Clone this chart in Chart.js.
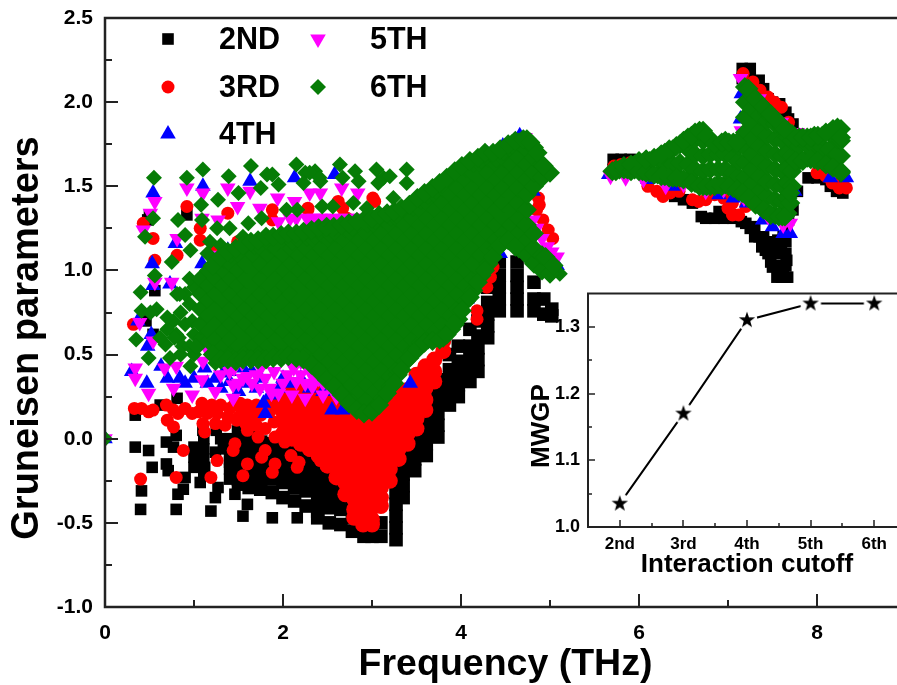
<!DOCTYPE html>
<html>
<head>
<meta charset="utf-8">
<style>
  html, body { margin: 0; padding: 0; background: #fff; overflow: hidden; width: 897px; height: 685px; }
  canvas { position: absolute; }
  #mainChart { left: 0; top: 0; }
  #insetChart { left: 510px; top: 280px; }
</style>
<script src="https://cdn.jsdelivr.net/npm/chart.js@4/dist/chart.umd.js"></script>
</head>
<body>
<canvas id="mainChart" width="920" height="685"></canvas>
<canvas id="insetChart" width="410" height="300"></canvas>
<script>
// tick labels
const xTicks = [0, 2, 4, 6, 8];
const xMinorTicks = [1, 3, 5, 7];
const yTicks = [-1, -0.5, 0, 0.5, 1, 1.5, 2, 2.5];
const yMinorTicks = [-0.75, -0.25, 0.25, 0.75, 1.25, 1.75, 2.25];

// inset values
const cutoffs = ['2nd', '3rd', '4th', '5th', '6th'];
const mwgp = [1.035, 1.17, 1.31, 1.335, 1.335];
const insetYTicks = [1.0, 1.1, 1.2, 1.3];
const insetYMinor = [1.05, 1.15, 1.25];

// 2ND: [frequency, parameter]
const secondPoints = [
  [.34,.14],[.34,-.05],[.49,-.07],[.53,-.17],[.41,-.31],[.4,-.42],[.69,-.02],[.77,-.05],[.8,.02],[.69,-.15],[.71,-.19],
  [.9,-.23],[.88,-.3],[.82,-.33],[.8,-.42],[1.07,-.26],[1.19,-.43],[1.24,-.35],[1.27,-.29],[1.24,-.08],[1.12,-.17],
  [1.4,-.14],[1.46,-.33],[1.55,-.46],[1.6,-.39],[1.88,-.47],[2.16,-.47],[.81,.24],[.56,.88],[.54,.62],[.5,1.33],[.48,1.3],
  [.92,1.33],[.62,.2],[1.1,.05],[.46,.7],[1.25,.05],[1.3,0],[1.55,.1],[1.65,.1],[1.33,-.06],
  [1,-.05],[1,-.11],[1,-.17],[1.11,0],[1.11,-.06],[1.11,-.12],[1.11,-.2],[1.4,0],[1.4,-.06],[1.4,-.12],[1.4,-.18],[1.4,-.24],
  // upper right group
  [5.71,1.66],[5.8,1.66],[5.9,1.66],[6,1.65],[5.71,1.6],
  [7.16,2.2],[7.25,2.2],[7.25,2.14],[7.16,2.14],[7.35,2.13],[7.4,2.08],[7.45,2.02],[7.5,2],[7.58,1.99],[7.65,1.94],[7.68,1.9],[7.73,1.87],
  [6.4,1.44],[6.5,1.42],[6.6,1.4],[6.7,1.32],[6.75,1.31],[6.85,1.31],[6.95,1.31],[7.05,1.31],[7.15,1.29],[7.25,1.25],[7.35,1.2],
  [7.42,1.12],[7.48,1.05],[7.55,.96],[7.65,.96],[7.65,1.03],[7.65,1.1],[7.65,1.17],[7.55,1.03],[7.55,1.1],[7.48,1.15],[7.4,1.2],[7.66,1.24],
  [7.3,1.2],[7.38,1.14],[7.45,1.1],[7.5,1.02],[7.6,.96],[7.62,1],[7.66,1.06],[7.6,1.12],[7.52,1.12],[7.45,1.17],[7.56,1.18],[7.62,1.2],[7.67,.96],
  [6.9,1.35],[7.1,1.33],[7.2,1.28],[7.3,1.26],
  [7.68,1.3],[7.73,1.36],[7.78,1.47],[7.9,1.55],[8,1.55],[8.1,1.54],[8.15,1.5],[8.22,1.47],[8.29,1.46]
];

// 2ND dense part: frequency, then the values in that column
const secondColumns = [
  [1.5,[.04,-.03,-.1,-.17,-.24,-.27]],
  [1.62,[.02,-.05,-.12,-.19,-.26,-.29]],
  [1.75,[-.02,-.09,-.16,-.23,-.3]],
  [1.88,[-.03,-.1,-.17,-.24,-.32]],
  [2,[-.05,-.12,-.19,-.26,-.35]],
  [2.13,[-.08,-.15,-.22,-.29,-.37]],
  [2.26,[-.1,-.17,-.24,-.31,-.4]],
  [2.39,[-.15,-.22,-.29,-.36,-.43,-.47]],
  [2.52,[-.2,-.27,-.34,-.41,-.5]],
  [2.65,[-.28,-.35,-.42,-.51]],
  [2.78,[-.4,-.47,-.55]],
  [2.91,[-.45,-.52,-.58]],
  [3,[-.5,-.58]],
  [3.1,[-.5,-.58]],
  [3.27,[-.6,-.53,-.46,-.39,-.32,-.25,-.18,-.1]],
  [3.35,[-.35,-.28,-.21,-.14,-.07,0]],
  [3.48,[-.19,-.12,-.05,.02,.1]],
  [3.61,[-.1,-.03,.04,.11,.2]],
  [3.74,[.01,.08,.15,.22,.29,.35]],
  [3.87,[.2,.27,.34,.41,.5]],
  [3.97,[.25,.32,.39,.46,.55]],
  [4.1,[.34,.41,.48,.55,.65]],
  [4.19,[.4,.47,.54,.61,.7]],
  [4.3,[.6,.67,.74,.81,.9]],
  [4.43,[.76,.83,.9,.97,1.05]],
  [4.63,[.76,.83,.9,.97,1.05]],
  [4.82,[.76,.83,.93]],
  [4.93,[.74,.83]],
  [5.02,[.73,.77]]
];

// 3RD
const thirdPoints = [
  [.33,.18],[.41,.18],[.49,.16],[.54,.17],[.69,.2],[.77,.17],[.82,.15],[.9,.18],[.7,.11],[.77,.07],[.98,.15],[1.09,.21],[1.05,.16],
  [1.26,.15],[1.24,.09],[1.1,.09],[1.12,.04],[1.38,.13],[1.52,.21],[1.48,.11],[1.6,.05],[1.63,.13],[1.72,.01],[1.46,-.03],[1.44,-.07],
  [1.8,-.07],[1.76,-.11],[1.91,.01],[2.02,-.02],[2.09,-.1],[2.18,-.14],[2.16,-.17],[1.91,-.15],[1.88,-.2],[1.6,-.15],[1.55,-.22],
  [1.26,-.13],[1.19,-.23],[.88,-.07],[.8,-.23],[.4,-.24],[2.19,-.01],[2.3,-.07],[2.42,-.13],
  [1.3,.2],[1.4,.18],[1.5,.13],[1.55,.16],[1.7,.08],[1.8,.06],[1.9,.1],[1.85,.16],[1.75,.14],[1.95,.18],
  [1.2,.2],[1.15,.15],[1.35,.08],[1.45,.2],[1.6,.2],[1.7,.2],[1.8,.2],[1.9,.22],[1.67,.18],[1.58,.09],
  [.92,1.38],[.43,1.28],[.54,1.19],[.56,1.06],[1.07,1.25],[1.07,1.18],[1.38,1.34],[1.26,1.13],[.81,1.09],[1.49,1.17],[1.33,.96],
  [1.88,1.36],[1.88,1.3],[2.28,1.36],[2.62,1.41],[2.67,1.31],[3.03,1.41],[.32,.68],[2.28,1.37],[2.67,1.37],[3.01,1.43],[2.72,1.31],
  [4.18,.76],[4.18,.71],[4.36,1.02],[4.29,.9],[4.33,.96],
  [4.87,1.43],[4.85,1.36],[4.92,1.3],[5.03,1.19],[4.98,1.24],[4.88,1.39],
  [7.17,2.17],[7.28,2.12],[7.36,2.07],[7.45,2.03],[7.52,2],[7.6,1.97],[7.68,1.88],[5.72,1.62],[5.8,1.63],[5.9,1.64],
  [6.2,1.47],[6.27,1.44],[6.35,1.46],[6.45,1.47],[6.6,1.42],[6.67,1.41],[6.75,1.42],[6.85,1.45],[7.05,1.33],[7,1.37],[7.12,1.33],[7.2,1.38],
  [6.95,1.43],[7.05,1.4],[8,1.58],[8.1,1.56],[8.17,1.52],[8.25,1.49],[8.33,1.49],[8.28,1.53],[6.1,1.5]
];

// 3RD dense part
const thirdColumns = [
  [2,[.03,.1,.16,.23,.29]],
  [2.1,[0,.06,.13,.19,.26,.32]],
  [2.2,[-.03,.03,.1,.16,.23,.29]],
  [2.3,[-.06,0,.06,.13,.19,.26]],
  [2.4,[-.1,-.03,.03,.1,.16,.23,.29]],
  [2.5,[-.16,-.09,-.03,.04,.1,.17,.23]],
  [2.6,[-.23,-.16,-.1,-.03,.03,.1,.16,.22]],
  [2.7,[-.33,-.26,-.2,-.13,-.07,0,.06,.13,.19]],
  [2.8,[-.47,-.42,-.36,-.29,-.23,-.16,-.1,-.03,.03,.1,.16]],
  [2.9,[-.51,-.48,-.41,-.35,-.28,-.22,-.15,-.09,-.02,.04,.11,.15]],
  [3,[-.51,-.48,-.41,-.35,-.28,-.22,-.15,-.09,-.02,.04,.11,.15]],
  [3.1,[-.4,-.35,-.29,-.22,-.16,-.09,-.03,.04,.1,.16]],
  [3.2,[-.25,-.18,-.12,-.05,.01,.08,.14,.21]],
  [3.3,[-.12,-.06,.01,.07,.14,.2,.27]],
  [3.4,[-.03,.03,.1,.16,.23,.29]],
  [3.5,[.06,.12,.19,.25,.32,.38]],
  [3.6,[.17,.23,.3,.36,.43]],
  [3.7,[.34,.4,.47]],
  [3.8,[.52,.58]]
];

// 4TH
const fourthPoints = [
  [.47,.33],[.7,.36],[.84,.36],[1.12,.42],[1.24,.36],[1.33,.39],[1.6,.33],[1.8,.15],[1.78,.21],[2.08,.33],[2.67,.17],[2.55,.17],[2.75,.18],
  [3.43,.33],[4.44,1.1],[5.08,1.03],[4.07,.83],[.54,1.46],[1.1,1.5],[1.63,1.53],[2.13,1.55],[2.58,1.57],[.53,1.04],[.79,1.16],[1.09,1.04],
  [1.38,1.12],[1.57,1.14],[1.74,1.04],[.54,.91],[.73,.92],[4.66,1.8],[4.47,1.74],[4.3,1.69],[4.08,1.61],[4.81,1.47],[0,0],
  [.48,.55],[.52,.62],[.37,.7],[.3,.4],[.63,.43],[.9,.33],[1.5,.28],[1.95,.3],[2.3,.3],[2.45,.28],
  [1,.36],[1.4,.34],[1.7,.3],[1.85,.26],[2.2,.36],[2.4,.36],[1.15,.33],[1.3,.3],[2,.36],[2.6,.3],
  [1.4,.4],[1.55,.42],[1.65,.4],[1.75,.36],
  [7.62,1.22],[7.7,1.22],[7.39,1.3],[7.21,1.4],[7.06,1.43],[6.38,1.5],[8.33,1.55],[8.15,1.55],[7.75,1.47],[5.66,1.57],[7.5,1.26],[6.9,1.45],[6.1,1.54],[7.14,1.9],[7.15,2.05]
];

// 5TH
const fifthPoints = [
  [.34,.42],[.34,.36],[.49,.27],[.67,.42],[.77,.3],[.98,.26],[1.09,.35],[1.24,.28],[1.44,.24],[1.74,.3],[1.87,.27],[2.1,.26],[2.25,.24],
  [2.45,.26],[2.6,.25],[2.33,.31],[1.5,.33],[2,.33],[1.44,.32],[1.6,.37],[.54,.58],[.39,.69],[.56,1.41],[.51,1.34],[.43,1.24],[.92,1.49],
  [1.1,1.46],[1.38,1.49],[1.63,1.47],[1.49,1.38],[1.94,1.43],[2.13,1.41],[2.3,1.46],[2.42,1.46],[2.66,1.49],[2.84,1.46],[.75,.93],[.56,.93],
  [1.18,1.09],[.81,1.19],[1.09,1.31],[1.27,1.3],[1.74,1.37],[2.08,1.31],[2.27,1.31],[2.45,1.31],[2.64,1.31],[2.83,1.31],[3.01,1.31],[2.42,1.31],
  [2.56,1.31],[2.9,1.31],[3.05,1.31],[3.2,1.25],[1.15,.6],[1.15,.53],[1.63,.5],[2.08,.46],[1.33,.51],[1.54,.45],[2.2,.46],[.8,.43],[1.1,.46],
  [1.3,.38],[1.4,.4],[1.7,.38],[1.8,.36],[1.9,.4],[2.2,.38],[2.3,.4],[2.4,.36],[2.5,.33],[2.7,.28],[2.15,.34],[1.95,.27],
  [1.45,.42],[1.55,.36],[1.65,.33],[1.75,.42],[1.85,.3],[2.05,.38],[2.12,.42],[2.25,.33],[2.35,.36],[2.45,.33],[2.55,.3],[2.65,.33],
  [2.15,1.31],[2.35,1.31],[2.74,1.31],[1.95,1.29],[3.12,1.3],
  [4.72,1.79],[4.55,1.73],[4.35,1.66],[4.12,1.59],[3.6,1.44],[4.85,1.25],[4.97,1.14],[5.08,1.08],[4.81,1.3],[4.91,1.19],[5.02,1.11],[0,0],
  [5.68,1.56],[5.85,1.55],[6.05,1.54],[6.3,1.5],[6.75,1.47],[7.62,1.27],[7.14,2.14],[7.35,2.02],[7.6,1.88],[7.78,1.82],[7.7,1.28],[7.45,1.32],[7.18,1.43],[6.95,1.48],[6.5,1.51],[7.15,1.83]
];

// 6TH scattered marks
const sixthPoints = [
  [.55,1.55],[.92,1.55],[1.1,1.6],[1.39,1.56],[1.64,1.62],[1.82,1.57],[1.88,1.57],[1.95,1.51],[1.75,1.49],[2.15,1.63],[2.25,1.58],[2.36,1.59],
  [2.42,1.53],[2.23,1.52],[2.64,1.63],[2.81,1.59],[2.85,1.53],[2.67,1.55],[3.05,1.6],[3.13,1.55],[1.5,1.46],[1.27,1.42],[1.08,1.39],[.54,1.31],
  [.45,1.2],[.82,1.3],[.9,1.21],[1.09,1.3],[.96,1.12],[.75,1.05],[1.27,1.04],[1.18,1.17],[1.4,1.25],[1.26,1.25],[1.61,1.28],[1.76,1.31],[2.04,1.36],
  [2.16,1.36],[2.44,1.38],[2.56,1.38],[2.79,1.4],[1.69,1.13],[1.46,1.01],[1.65,.99],[1.93,1.13],[.56,.97],[.4,.87],[.81,.86],[.9,.86],
  [.41,.76],[.58,.77],[.51,.75],[.35,.59],[.49,.48],[.73,.48],[.96,.43],[1.24,.45],[.84,.86],[.77,.7],[.68,.56],[0,0],
  [.83,.6],[.85,.75],[.9,.68],[.95,.8],[.98,.7],[1,.62],[1,.9],[.95,.95],[3.2,1.56],[3.07,1.52],[3.39,1.6],[3.39,1.52],[3.24,1.43],[2.3,1.58],
  [2.41,1.55],[2.94,1.37],[1.3,1.15],[1.55,1.2],[1.15,1.1],[5.11,.98],
  [1,.5],[1.05,.55],[.85,.5],[.8,.62],[1.08,.6],[.7,.65],[.78,.6],[.87,.55],[.95,.55],[.7,.72],[1.02,.55],[.62,.6]
];

// 6TH dense part
const sixthColumns = [
  [1.08,[.68,.77,.86,.95]],
  [1.17,[.58,.64,.73,.82,.91,1]],
  [1.25,[.51,.59,.68,.77,.86,.95,1.04]],
  [1.34,[.5,.55,.64,.73,.82,.91,1,1.07]],
  [1.42,[.5,.59,.68,.77,.86,.95,1.04,1.1]],
  [1.51,[.5,.55,.64,.73,.82,.91,1,1.09]],
  [1.59,[.51,.59,.68,.77,.86,.95,1.04,1.13]],
  [1.68,[.51,.55,.64,.73,.82,.91,1,1.09,1.15]],
  [1.76,[.51,.59,.68,.77,.86,.95,1.04,1.13]],
  [1.85,[.51,.55,.64,.73,.82,.91,1,1.09,1.16]],
  [1.93,[.52,.59,.68,.77,.86,.95,1.04,1.13,1.17]],
  [2.02,[.52,.55,.64,.73,.82,.91,1,1.09,1.17]],
  [2.1,[.52,.59,.68,.77,.86,.95,1.04,1.13,1.18]],
  [2.19,[.51,.55,.64,.73,.82,.91,1,1.09,1.18]],
  [2.27,[.5,.59,.68,.77,.86,.95,1.04,1.13,1.2]],
  [2.36,[.47,.55,.64,.73,.82,.91,1,1.09,1.18,1.21]],
  [2.44,[.43,.5,.59,.68,.77,.86,.95,1.04,1.13,1.22]],
  [2.53,[.39,.46,.55,.64,.73,.82,.91,1,1.09,1.18,1.22]],
  [2.61,[.34,.41,.5,.59,.68,.77,.86,.95,1.04,1.13,1.22]],
  [2.7,[.29,.37,.46,.55,.64,.73,.82,.91,1,1.09,1.18,1.25]],
  [2.78,[.25,.32,.41,.5,.59,.68,.77,.86,.95,1.04,1.13,1.22,1.26]],
  [2.87,[.2,.28,.37,.46,.55,.64,.73,.82,.91,1,1.09,1.18,1.27]],
  [2.95,[.17,.23,.32,.41,.5,.59,.68,.77,.86,.95,1.04,1.13,1.22,1.28]],
  [3.04,[.19,.28,.37,.46,.55,.64,.73,.82,.91,1,1.09,1.18,1.27,1.3]],
  [3.12,[.24,.32,.41,.5,.59,.68,.77,.86,.95,1.04,1.13,1.22,1.31]],
  [3.21,[.31,.37,.46,.55,.64,.73,.82,.91,1,1.09,1.18,1.27,1.32]],
  [3.29,[.38,.41,.5,.59,.68,.77,.86,.95,1.04,1.13,1.22,1.31,1.33]],
  [3.38,[.46,.55,.64,.73,.82,.91,1,1.09,1.18,1.27,1.36]],
  [3.46,[.52,.59,.68,.77,.86,.95,1.04,1.13,1.22,1.31,1.38]],
  [3.55,[.57,.64,.73,.82,.91,1,1.09,1.18,1.27,1.36,1.42]],
  [3.63,[.59,.68,.77,.86,.95,1.04,1.13,1.22,1.31,1.4,1.45]],
  [3.72,[.6,.64,.73,.82,.91,1,1.09,1.18,1.27,1.36,1.45,1.48]],
  [3.8,[.6,.68,.77,.86,.95,1.04,1.13,1.22,1.31,1.4,1.49,1.51]],
  [3.89,[.65,.73,.82,.91,1,1.09,1.18,1.27,1.36,1.45,1.54]],
  [3.97,[.71,.77,.86,.95,1.04,1.13,1.22,1.31,1.4,1.49,1.58]],
  [4.06,[.82,.91,1,1.09,1.18,1.27,1.36,1.45,1.54,1.61]],
  [4.14,[.88,.95,1.04,1.13,1.22,1.31,1.4,1.49,1.58,1.64]],
  [4.23,[.97,1,1.09,1.18,1.27,1.36,1.45,1.54,1.63,1.66]],
  [4.31,[1.04,1.13,1.22,1.31,1.4,1.49,1.58,1.67]],
  [4.4,[1.13,1.18,1.27,1.36,1.45,1.54,1.63,1.67]],
  [4.48,[1.22,1.31,1.4,1.49,1.58,1.67,1.71]],
  [4.57,[1.2,1.27,1.36,1.45,1.54,1.63,1.72,1.75]],
  [4.65,[1.13,1.22,1.31,1.4,1.49,1.58,1.67,1.76]],
  [4.74,[1.09,1.18,1.27,1.36,1.45,1.54,1.63,1.72,1.78]],
  [4.82,[1.04,1.13,1.22,1.5,1.58,1.67,1.73]],
  [4.91,[1,1.09,1.55,1.63]],
  [5,[.98,1.58]],
  // upper and lower rim of the main cloud
  [1.21,[.5,1.03]],[1.3,[.47,1.08]],[1.38,[.47,1.11]],[1.47,[.46,1.13]],[1.55,[.47,1.15]],[1.64,[.47,1.17]],[1.72,[.47,1.18]],
  [1.81,[.47,1.2]],[1.89,[.48,1.2]],[1.98,[.48,1.21]],[2.06,[.49,1.22]],[2.15,[.48,1.22]],[2.23,[.47,1.23]],[2.32,[.44,1.24]],
  [2.4,[.4,1.25]],[2.49,[.35,1.26]],[2.57,[.31,1.26]],[2.66,[.26,1.27]],[2.74,[.21,1.28]],[2.83,[.17,1.29]],[2.91,[.15,1.3]],
  [3,[.16,1.31]],[3.08,[.2,1.33]],[3.17,[.27,1.34]],[3.25,[.33,1.35]],[3.33,[.41,1.37]],[3.42,[.48,1.39]],[3.51,[.53,1.43]],
  [3.59,[.57,1.46]],[3.68,[.58,1.49]],[3.76,[.59,1.52]],[3.84,[.62,1.55]],[3.93,[.68,1.59]],[4.01,[.76,1.62]],[4.1,[.84,1.65]],
  [4.19,[.93,1.67]],[4.27,[1,1.7]],[4.36,[1.08,1.7]],[4.44,[1.15,1.72]],[4.53,[1.18,1.75]],[4.61,[1.14,1.77]],[4.7,[1.78]],
  [4.78,[1.76]],[4.86,[1.7]],[4.93,[1.62]],[4.95,[1.08]],[5.04,[1.03]],
  // upper right group
  [5.7,[1.59]],[5.78,[1.6]],[5.87,[1.6]],[5.95,[1.6,1.63]],[6.04,[1.59,1.64]],[6.12,[1.58,1.65]],[6.21,[1.57,1.67]],
  [6.29,[1.56,1.64,1.7]],[6.38,[1.55,1.63,1.72]],[6.46,[1.55,1.64,1.75]],[6.55,[1.54,1.63,1.72,1.79]],
  [6.63,[1.52,1.6,1.69,1.78,1.82]],[6.72,[1.5,1.59,1.68,1.77,1.83]],[6.8,[1.5,1.6,1.69,1.78]],[6.89,[1.51,1.6,1.69,1.74]],
  [6.97,[1.51,1.6,1.69,1.77]],[7.06,[1.49,1.58,1.67,1.76]],[7.12,[1.47,1.56,1.65,1.74]],
  [7.19,[1.46,1.55,1.64,1.73,1.82,1.91,2,2.09]],[7.27,[1.42,1.51,1.6,1.69,1.78,1.87,1.96,2.04]],
  [7.36,[1.38,1.47,1.56,1.65,1.74,1.83,1.92,1.99]],[7.44,[1.35,1.44,1.53,1.62,1.71,1.8,1.89,1.94]],
  [7.53,[1.33,1.42,1.51,1.6,1.69,1.78,1.87,1.9]],[7.61,[1.32,1.41,1.5,1.59,1.68,1.77,1.85]],
  [7.67,[1.34,1.43,1.52,1.61,1.7,1.79,1.83]],[7.72,[1.5,1.59,1.68,1.77,1.81]],
  [7.8,[1.65,1.74,1.79]],[7.89,[1.67,1.75,1.79]],[7.97,[1.66,1.74,1.8]],[8.06,[1.65,1.73,1.8]],
  [8.14,[1.63,1.72,1.82]],[8.23,[1.6,1.69,1.78,1.85]],[8.27,[1.59,1.68,1.77,1.84]],
  // its rim
  [5.74,[1.59,1.6]],[5.83,[1.6,1.62]],[5.91,[1.59,1.63]],[6,[1.59,1.65]],[6.08,[1.58,1.66]],[6.17,[1.57,1.67]],[6.25,[1.56,1.69]],
  [6.34,[1.55,1.72]],[6.42,[1.55,1.74]],[6.5,[1.54,1.77]],[6.59,[1.52,1.8]],[6.68,[1.5,1.83]],[6.76,[1.5,1.8]],[6.85,[1.5,1.75]],
  [6.93,[1.5,1.76]],[7.01,[1.5,1.76]],[7.1,[1.48,1.76]],[7.16,[1.46]],[7.23,[1.43,2.08]],[7.31,[1.39,2.02]],[7.4,[1.36,1.97]],
  [7.48,[1.33,1.93]],[7.57,[1.32,1.88]],[7.64,[1.32,1.84]],[7.7,[1.4,1.46]],[7.76,[1.65,1.79]],[7.84,[1.65,1.79]],[7.93,[1.66,1.79]],
  [8.01,[1.65,1.8]],[8.1,[1.63,1.82]],[8.18,[1.61,1.84]],[8.27,[1.58,1.79]]
];

const axisColor = '#222';
const fontFamily = '"Liberation Sans", Arial, sans-serif';

const flatten = cols => cols.flatMap(col => col[1].map(v => [col[0], v]));

// marks of the dense parts are drawn a little larger so that they close up
const sizeBy = (sparseCount, sparse, dense) => ctx => (ctx.dataIndex < sparseCount ? sparse : dense);

function drawInnerTicks(chart, cfg) {
  const ctx = chart.ctx, a = chart.chartArea, x = chart.scales.x, y = chart.scales.y;
  ctx.save();
  ctx.strokeStyle = axisColor;
  ctx.lineWidth = cfg.width;
  ctx.beginPath();
  const tickY = (vals, len) => vals.forEach(v => {
    const p = Math.round(y.getPixelForValue(v));
    ctx.moveTo(a.left, p); ctx.lineTo(a.left + len, p);
  });
  const tickX = (vals, len) => vals.forEach(v => {
    const p = Math.round(x.getPixelForValue(v));
    ctx.moveTo(p, a.bottom); ctx.lineTo(p, a.bottom - len);
  });
  tickY(cfg.yMajor, cfg.major);
  tickY(cfg.yMinor, cfg.minor);
  tickX(cfg.xMajor, cfg.major);
  tickX(cfg.xMinor, cfg.minor);
  ctx.stroke();
  ctx.lineWidth = cfg.box;
  ctx.strokeRect(a.left, a.top, a.right - a.left, a.bottom - a.top);
  ctx.restore();
}

// the y titles sit lower than the middle of the axis, so they are placed here
function drawSideTitle(chart, text, size, cx, cy) {
  const ctx = chart.ctx;
  ctx.save();
  ctx.translate(cx, cy);
  ctx.rotate(-Math.PI / 2);
  ctx.fillStyle = '#000';
  ctx.font = 'bold ' + size + 'px ' + fontFamily;
  ctx.textAlign = 'center';
  ctx.textBaseline = 'middle';
  ctx.fillText(text, 0, 0);
  ctx.restore();
}

const frame = {
  id: 'frame',
  afterDatasetsDraw(chart, args, opts) {
    drawInnerTicks(chart, opts);
    drawSideTitle(chart, 'Gruneisen parameters', 38, 28, 338);
  }
};

// legend laid out in two columns as in the figure
const legendItems = [
  { label: '2ND', set: 4, r: 8.2, mx: 168, tx: 219, y: 39 },
  { label: '3RD', set: 3, r: 6.5, mx: 168, tx: 219, y: 87 },
  { label: '4TH', set: 2, r: 9, mx: 168, tx: 219, y: 134 },
  { label: '5TH', set: 1, r: 9, mx: 318, tx: 370, y: 39 },
  { label: '6TH', set: 0, r: 8, mx: 318, tx: 370, y: 87 }
];
const figureLegend = {
  id: 'figureLegend',
  afterDraw(chart) {
    const ctx = chart.ctx;
    ctx.save();
    legendItems.forEach(it => {
      const ds = chart.data.datasets[it.set];
      ctx.fillStyle = ds.backgroundColor;
      ctx.strokeStyle = ds.backgroundColor;
      ctx.lineWidth = 0;
      Chart.helpers.drawPoint(ctx, { pointStyle: ds.pointStyle, rotation: ds.rotation || 0, radius: it.r, borderWidth: 0 }, it.mx, it.y);
      ctx.fillStyle = '#000';
      ctx.font = 'bold 30.5px ' + fontFamily;
      ctx.textBaseline = 'middle';
      ctx.textAlign = 'left';
      ctx.fillText(it.label, it.tx, it.y + 2);
    });
    ctx.restore();
  }
};

new Chart(document.getElementById('mainChart'), {
  type: 'scatter',
  data: {
    datasets: [
      { label: '6TH', data: sixthPoints.concat(flatten(sixthColumns)), backgroundColor: '#067c06', pointStyle: 'rectRot', pointRadius: sizeBy(sixthPoints.length, 8, 10), pointBorderWidth: 0, order: 1 },
      { label: '5TH', data: fifthPoints, backgroundColor: '#ff00ff', pointStyle: 'triangle', rotation: 180, pointRadius: 9, pointBorderWidth: 0, order: 2 },
      { label: '4TH', data: fourthPoints, backgroundColor: '#0000ff', pointStyle: 'triangle', pointRadius: 9, pointBorderWidth: 0, order: 3 },
      { label: '3RD', data: thirdPoints.concat(flatten(thirdColumns)), backgroundColor: '#ff0000', pointStyle: 'circle', pointRadius: sizeBy(thirdPoints.length, 6.5, 8), pointBorderWidth: 0, order: 4 },
      { label: '2ND', data: secondPoints.concat(flatten(secondColumns)), backgroundColor: '#000000', pointStyle: 'rect', pointRadius: sizeBy(secondPoints.length, 8.2, 9.6), pointBorderWidth: 0, order: 5 }
    ]
  },
  plugins: [frame, figureLegend],
  options: {
    responsive: false,
    animation: false,
    events: [],
    layout: { padding: { top: 18, right: 14, left: 0, bottom: 0 } },
    plugins: {
      legend: { display: false },
      tooltip: { enabled: false },
      frame: { xMajor: xTicks, xMinor: xMinorTicks, yMajor: yTicks, yMinor: yMinorTicks, major: 13, minor: 7, width: 2, box: 2.5 }
    },
    scales: {
      x: {
        type: 'linear', min: 0, max: 9,
        afterBuildTicks(s) { s.ticks = xTicks.map(v => ({ value: v })); },
        afterFit(s) { s.height = 78; s.paddingLeft = 0; s.paddingRight = 0; },
        grid: { display: false }, border: { display: false },
        ticks: { color: '#000', padding: 6, maxRotation: 0, autoSkip: false, font: { family: fontFamily, weight: 'bold', size: 21 } },
        title: { display: true, text: 'Frequency (THz)', color: '#000', font: { family: fontFamily, weight: 'bold', size: 37.5, lineHeight: 1.1 }, padding: { top: 0, bottom: 0 } }
      },
      y: {
        type: 'linear', min: -1, max: 2.5,
        afterBuildTicks(s) { s.ticks = yTicks.map(v => ({ value: v })); },
        afterFit(s) { s.width = 105; s.paddingTop = 0; s.paddingBottom = 0; },
        grid: { display: false }, border: { display: false },
        ticks: { color: '#000', padding: 4, autoSkip: false, font: { family: fontFamily, weight: 'bold', size: 21 }, callback: v => v.toFixed(1) }
      }
    }
  }
});

// filled five-point star with a white gap round it, used as the inset marker
function starMarker() {
  const c = document.createElement('canvas');
  c.width = 24; c.height = 24;
  const g = c.getContext('2d');
  g.fillStyle = '#fff';
  g.beginPath(); g.arc(12, 12, 10.5, 0, Math.PI * 2); g.fill();
  g.fillStyle = '#000';
  g.beginPath();
  for (let i = 0; i < 10; i++) {
    const r = i % 2 ? 3.4 : 8.6;
    const t = -Math.PI / 2 + i * Math.PI / 5;
    g.lineTo(12 + r * Math.cos(t), 12 + r * Math.sin(t));
  }
  g.closePath(); g.fill();
  return c;
}

const insetFrame = {
  id: 'insetFrame',
  afterDatasetsDraw(chart, args, opts) {
    const a = chart.chartArea, x = chart.scales.x, y = chart.scales.y, ctx = chart.ctx;
    ctx.save();
    ctx.strokeStyle = axisColor;
    ctx.lineWidth = 1.5;
    ctx.beginPath();
    opts.yMajor.forEach(v => { const p = Math.round(y.getPixelForValue(v)); ctx.moveTo(a.left, p); ctx.lineTo(a.left + 7, p); });
    opts.yMinor.forEach(v => { const p = Math.round(y.getPixelForValue(v)); ctx.moveTo(a.left, p); ctx.lineTo(a.left + 4, p); });
    cutoffs.forEach((c, i) => {
      const p = Math.round(x.getPixelForValue(i));
      ctx.moveTo(p, a.bottom); ctx.lineTo(p, a.bottom - 7);
      if (i < cutoffs.length - 1) {
        const m = Math.round(x.getPixelForValue(i + 0.5));
        ctx.moveTo(m, a.bottom); ctx.lineTo(m, a.bottom - 4);
      }
    });
    ctx.stroke();
    ctx.lineWidth = 2;
    ctx.strokeRect(a.left, a.top, a.right - a.left, a.bottom - a.top);
    ctx.restore();
    drawSideTitle(chart, 'MWGP', 26, 32, 146);
  }
};

new Chart(document.getElementById('insetChart'), {
  type: 'line',
  data: {
    labels: cutoffs,
    datasets: [{
      data: mwgp, borderColor: '#000', borderWidth: 2, tension: 0,
      pointStyle: starMarker(), pointRadius: 9, clip: false
    }]
  },
  plugins: [insetFrame],
  options: {
    responsive: false,
    animation: false,
    events: [],
    layout: { padding: { top: 13.5, right: 14, left: 0, bottom: 0 } },
    plugins: {
      legend: { display: false },
      tooltip: { enabled: false },
      insetFrame: { yMajor: insetYTicks, yMinor: insetYMinor }
    },
    scales: {
      x: {
        type: 'category', offset: true,
        afterFit(s) { s.height = 53; s.paddingLeft = 0; s.paddingRight = 0; },
        grid: { display: false }, border: { display: false },
        ticks: { color: '#000', padding: -1, maxRotation: 0, autoSkip: false, font: { family: fontFamily, weight: 'bold', size: 17 } },
        title: { display: true, text: 'Interaction cutoff', color: '#000', font: { family: fontFamily, weight: 'bold', size: 26 }, padding: { top: 0, bottom: 0 } }
      },
      y: {
        type: 'linear', min: 1, max: 1.35,
        afterBuildTicks(s) { s.ticks = insetYTicks.map(v => ({ value: v })); },
        afterFit(s) { s.width = 78; s.paddingTop = 0; s.paddingBottom = 0; },
        grid: { display: false }, border: { display: false },
        ticks: { color: '#000', padding: 0, autoSkip: false, font: { family: fontFamily, weight: 'bold', size: 18 }, callback: v => v.toFixed(1) }
      }
    }
  }
});
</script>
</body>
</html>
